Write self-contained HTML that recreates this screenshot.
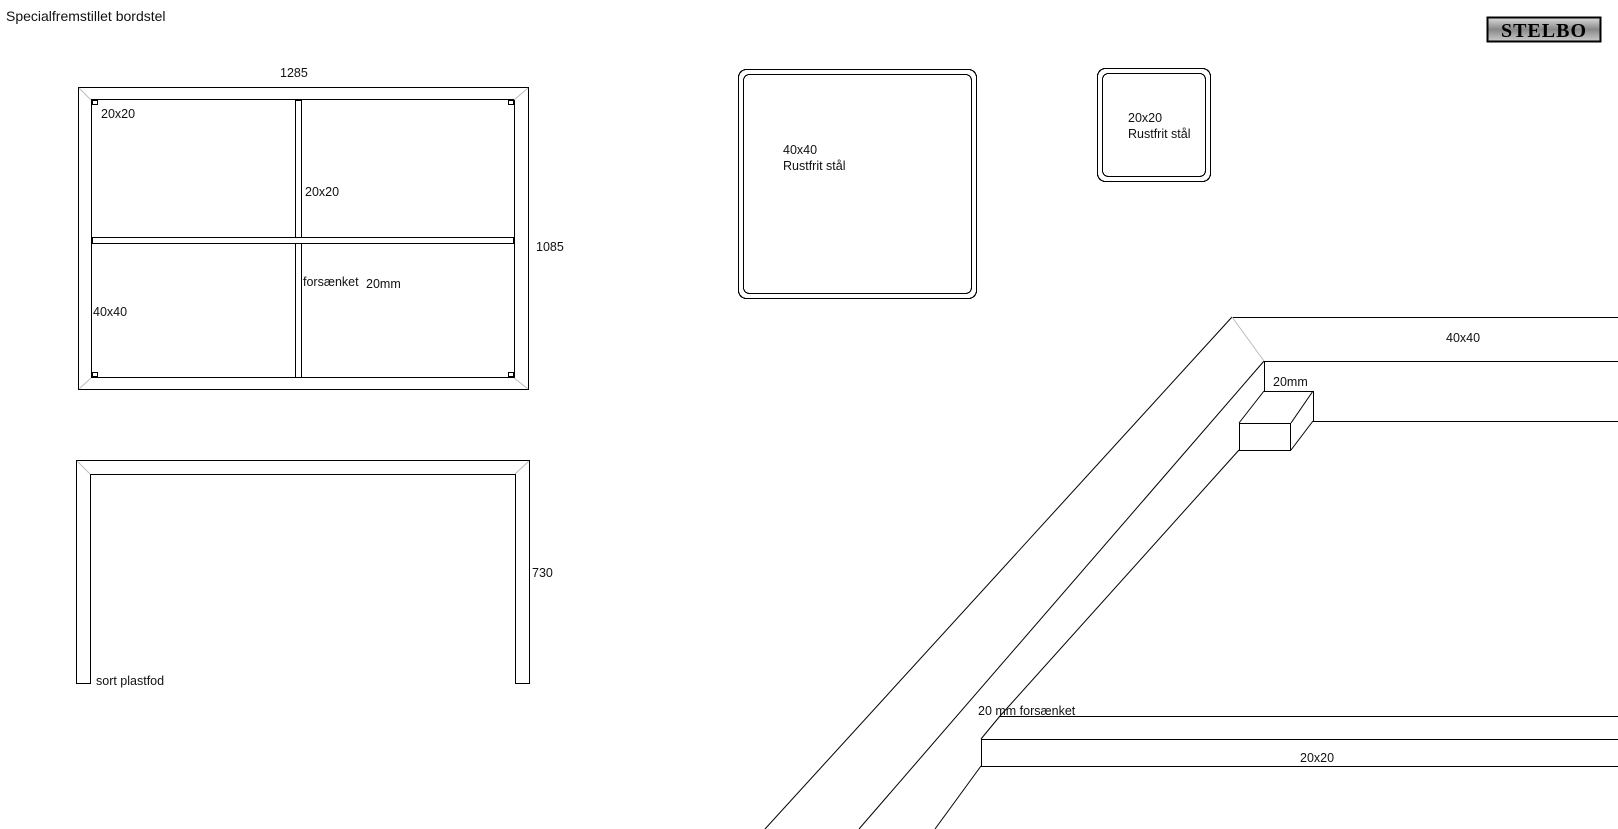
<!DOCTYPE html>
<html><head><meta charset="utf-8"><style>
html,body{margin:0;padding:0;background:#fff;}
svg{display:block;}
text{font-family:"Liberation Sans",Arial,sans-serif;font-size:12.5px;fill:#111;}
</style></head><body>
<svg width="1618" height="829" viewBox="0 0 1618 829" xmlns="http://www.w3.org/2000/svg">
<defs><linearGradient id="lg" x1="0" y1="0" x2="0" y2="1"><stop offset="0" stop-color="#ddd"/><stop offset="0.5" stop-color="#888"/><stop offset="1" stop-color="#ccc"/></linearGradient></defs>
<g stroke="#000" stroke-width="1.2" fill="none" shape-rendering="crispEdges">
<text x="6" y="21" style="font-size:14px" stroke="none">Specialfremstillet bordstel</text>
<!-- top view -->
<rect x="78.5" y="87.5" width="450" height="302"/>
<rect x="91.5" y="99.5" width="423" height="278"/>
<rect x="295.5" y="100.5" width="6" height="277"/>
<rect x="92.5" y="237.5" width="421" height="6" fill="#fff"/>
<rect x="296.5" y="238.5" width="4.5" height="4.5" fill="#fff" stroke="none"/>
<rect x="92.5" y="100.5" width="5" height="4"/>
<rect x="508.5" y="100.5" width="5" height="4"/>
<rect x="92.5" y="372.5" width="5" height="4"/>
<rect x="508.5" y="372.5" width="5" height="4"/>
<g stroke="#bbb" stroke-width="1" shape-rendering="auto"><line x1="79" y1="88" x2="91" y2="100"/><line x1="528" y1="88" x2="514" y2="100"/><line x1="79" y1="389" x2="91" y2="378"/><line x1="528" y1="389" x2="514" y2="378"/></g>
<text x="280" y="77" stroke="none">1285</text>
<text x="101" y="118" stroke="none">20x20</text>
<text x="305" y="196" stroke="none">20x20</text>
<text x="536" y="251" stroke="none">1085</text>
<text x="303" y="286" stroke="none">forsænket</text>
<text x="366" y="288" stroke="none">20mm</text>
<text x="93" y="316" stroke="none">40x40</text>
<!-- side view -->
<path d="M76.5 683.5 V460.5 H529.5 V683.5 H515.5 V474.5 H90.5 V683.5 Z"/>
<g stroke="#bbb" stroke-width="1" shape-rendering="auto"><line x1="77" y1="461" x2="90" y2="474"/><line x1="529" y1="461" x2="515" y2="474"/></g>
<text x="532" y="577" stroke="none">730</text>
<text x="96" y="685" stroke="none">sort plastfod</text>
<!-- profiles -->
<rect x="738.5" y="69.5" width="238" height="229" rx="8"/>
<rect x="743.5" y="74.5" width="228" height="219" rx="6"/>
<text x="783" y="154" stroke="none">40x40</text>
<text x="783" y="170" stroke="none">Rustfrit stål</text>
<rect x="1097.5" y="68.5" width="113" height="113" rx="8"/>
<rect x="1102.5" y="73.5" width="103" height="103" rx="6"/>
<text x="1128" y="122" stroke="none">20x20</text>
<text x="1128" y="138" stroke="none">Rustfrit stål</text>
<!-- logo -->
<rect x="1487.5" y="17.5" width="113" height="24" fill="url(#lg)" stroke="#000" stroke-width="2"/>
<text x="1544" y="37" text-anchor="middle" stroke="none" style="font-family:'Liberation Serif',serif;font-weight:bold;font-size:20px;letter-spacing:1px;fill:#000">STELBO</text>
<!-- perspective -->
<line x1="1232" y1="317.5" x2="1618" y2="317.5"/>
<line x1="1264" y1="361.5" x2="1618" y2="361.5"/>
<line x1="1264.5" y1="361" x2="1264.5" y2="391"/>
<line x1="1264" y1="391.5" x2="1313" y2="391.5"/>
<line x1="1313.5" y1="391" x2="1313.5" y2="421"/>
<line x1="1313" y1="421.5" x2="1618" y2="421.5"/>
<rect x="1239.5" y="423.5" width="51" height="27"/>
<g shape-rendering="auto" stroke-width="1">
<line x1="1232" y1="317" x2="765" y2="829"/>
<line x1="1264" y1="361" x2="859" y2="829"/>
<line x1="1264" y1="391" x2="1239" y2="423"/>
<line x1="1313" y1="391" x2="1291" y2="423"/>
<line x1="1313" y1="421" x2="1291" y2="450"/>
<line x1="1239" y1="450" x2="1000" y2="716"/>
<line x1="981" y1="766" x2="935" y2="829"/>
<line x1="1000" y1="716" x2="981" y2="739"/>
<line x1="1232" y1="317" x2="1264" y2="361" stroke="#bbb"/>
</g>
<line x1="1000" y1="716.5" x2="1618" y2="716.5"/>
<line x1="981" y1="739.5" x2="1618" y2="739.5"/>
<line x1="981" y1="766.5" x2="1618" y2="766.5"/>
<line x1="981.5" y1="739" x2="981.5" y2="766"/>
<text x="1446" y="342" stroke="none">40x40</text>
<text x="1273" y="386" stroke="none">20mm</text>
<text x="978" y="715" stroke="none">20 mm forsænket</text>
<text x="1300" y="762" stroke="none">20x20</text>
</g>
</svg>
</body></html>
